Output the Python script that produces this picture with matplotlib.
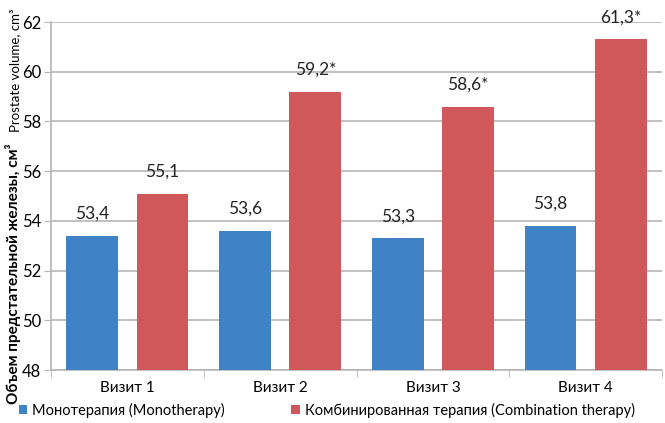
import matplotlib
matplotlib.use("Agg")
import matplotlib.pyplot as plt
import numpy as np

plt.rcParams['font.family'] = ['Lato', 'DejaVu Sans']

# визиты и объем простаты по группам
visits = ['Визит 1', 'Визит 2', 'Визит 3', 'Визит 4']
mono = [53.4, 53.6, 53.3, 53.8]
combo = [55.1, 59.2, 58.6, 61.3]
mono_labels = ['53,4', '53,6', '53,3', '53,8']
combo_labels = ['55,1', '59,2*', '58,6*', '61,3*']

blue = '#3F83C6'
red = '#D0585B'
grid_c = '#B5B5B5'

fig = plt.figure(figsize=(6.65, 4.23), dpi=100)
ax = fig.add_axes([51 / 665, 1 - 370 / 423, (662 - 51) / 665, (370 - 22) / 423])

x = np.arange(len(visits))
w = 0.34
off = 0.23
b1 = ax.bar(x - off, np.array(mono) - 48, w, bottom=48, color=blue, zorder=3,
            label='Монотерапия (Monotherapy)')
b2 = ax.bar(x + off, np.array(combo) - 48, w, bottom=48, color=red, zorder=3,
            label='Комбинированная терапия (Combination therapy)')

for xi, v, t in zip(x - off, mono, mono_labels):
    ax.annotate(t, (xi, v), xytext=(0, 10), textcoords='offset points',
                ha='center', va='bottom', fontsize=12.5, color='#222222')
for xi, v, t in zip(x + off, combo, combo_labels):
    ax.annotate(t, (xi, v), xytext=(0, 10), textcoords='offset points',
                ha='center', va='bottom', fontsize=12.5, color='#222222')

ax.set_xlim(-0.5, 3.5)
ax.set_ylim(48, 62)
ax.set_yticks(np.arange(48, 63, 2))
ax.tick_params(axis='y', labelsize=12, length=5, color=grid_c, pad=2)
ax.set_xticks(x)
ax.set_xticklabels(visits, fontsize=11)
ax.set_xticks(np.arange(-0.5, 4, 1), minor=True)
ax.tick_params(axis='x', which='major', length=0, pad=8)
ax.tick_params(axis='x', which='minor', length=5, color=grid_c)
ax.yaxis.grid(True, color=grid_c, linewidth=1.2, zorder=0)
for s in ['top', 'right']:
    ax.spines[s].set_visible(False)
for s in ['left', 'bottom']:
    ax.spines[s].set_color(grid_c)
    ax.spines[s].set_linewidth(1.2)

fig.text(0.020, 1 - 404 / 423, 'Объем предстательной железы, см³', rotation=90,
         ha='center', va='bottom', fontsize=11, fontweight='bold')
fig.text(0.023, 1 - 8 / 423, 'Prostate volume, cm³', rotation=90,
         ha='center', va='top', fontsize=9.5)

fig.legend(handles=[b1, b2], loc='center left', bbox_to_anchor=(0.028, 1 - 410 / 423),
           ncol=2, frameon=False, fontsize=10.5, handlelength=0.6,
           handleheight=0.6, handletextpad=0.3, columnspacing=4.6,
           borderpad=0, borderaxespad=0)

fig.savefig('out.png', dpi=100)
